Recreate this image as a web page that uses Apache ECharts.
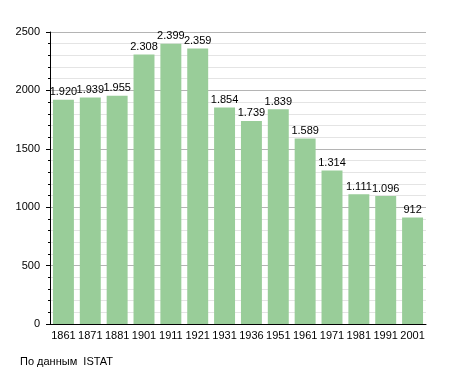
<!DOCTYPE html>
<html><head><meta charset="utf-8">
<script src="https://cdn.jsdelivr.net/npm/echarts@6/dist/echarts.min.js"></script>
<style>html,body{margin:0;padding:0;background:#fff}#c{width:455px;height:373px}</style>
</head><body><div id="c"></div>
<script>
const years = ['1861','1871','1881','1901','1911','1921','1931','1936','1951','1961','1971','1981','1991','2001'];
const population = [1920,1939,1955,2308,2399,2359,1854,1739,1839,1589,1314,1111,1096,912];
const yTicks = {min:0, max:2500, interval:500};
const sourceText = 'По данным  ISTAT';

const chart = echarts.init(document.getElementById('c'), null, {renderer:'canvas'});
const font = 'Liberation Sans, Arial, sans-serif';
chart.setOption({
  animation:false,
  grid:{left:50,right:29,top:32,bottom:49,containLabel:false},
  xAxis:{type:'category',data:years,
    axisLine:{lineStyle:{color:'#000',width:1}},
    axisTick:{show:false},
    axisLabel:{color:'#000',fontSize:11,fontFamily:font,margin:6,interval:0},
    splitLine:{show:false}},
  yAxis:{type:'value',min:yTicks.min,max:yTicks.max,interval:yTicks.interval,
    axisLine:{show:true,lineStyle:{color:'#000',width:1}},
    axisTick:{show:true,length:4,lineStyle:{color:'#000'}},
    minorTick:{show:true,splitNumber:5,length:2,lineStyle:{color:'#000'}},
    axisLabel:{color:'#000',fontSize:11,fontFamily:font,margin:10,formatter:v=>String(v)},
    splitLine:{show:true,lineStyle:{color:'#b4b4b4',width:1}},
    minorSplitLine:{show:true,lineStyle:{color:'#e4e4e4',width:1}}},
  series:[{type:'bar',data:population,barCategoryGap:'22%',
    itemStyle:{color:'#99cd99'},
    label:{show:true,position:'top',distance:2,color:'#000',fontSize:11,fontFamily:font,
      formatter:p=>{const v=p.value;return v>=1000?Math.floor(v/1000)+'.'+String(v%1000).padStart(3,'0'):String(v);}}}],
  graphic:[{type:'text',left:20,top:356,style:{text:sourceText,fill:'#000',font:'11px '+font}}]
});
</script></body></html>
